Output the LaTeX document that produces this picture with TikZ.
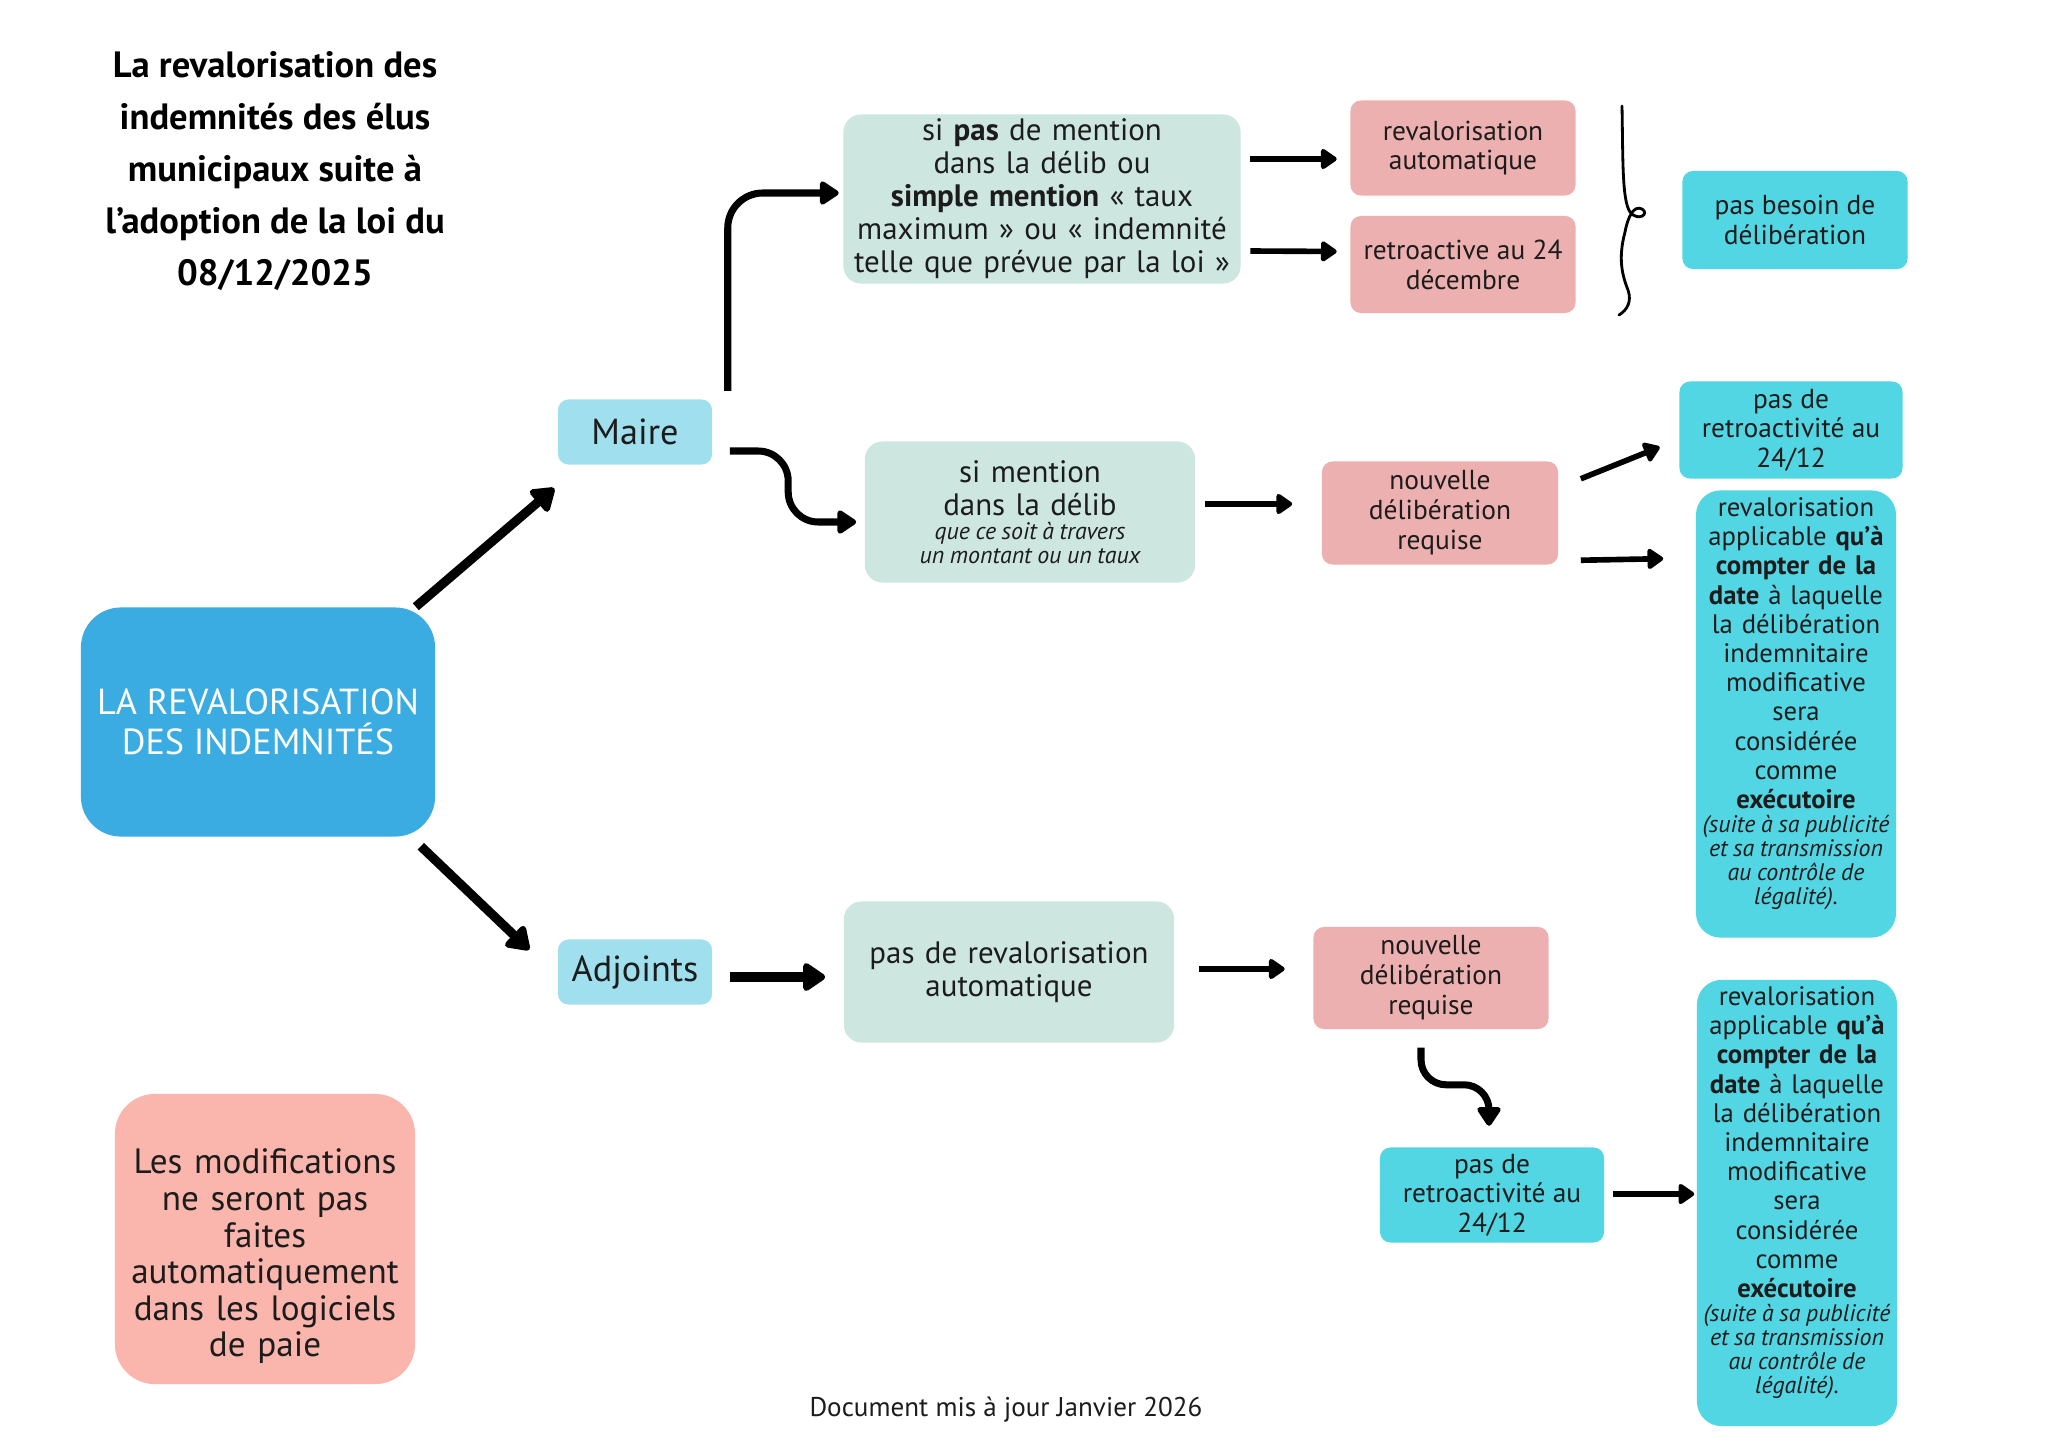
\documentclass[tikz,border=0pt]{standalone}
\usepackage{fontspec}
\setmainfont{PT Sans}
\usepackage{tikz}
\usetikzlibrary{arrows.meta,positioning}
\usepackage{xcolor}
\definecolor{rvblue}{RGB}{59,172,226}
\definecolor{rvpale}{RGB}{160,223,237}
\definecolor{rvmint}{RGB}{205,231,224}
\definecolor{rvrose}{RGB}{237,176,176}
\definecolor{rvcyan}{RGB}{83,214,227}
\definecolor{rvsalmon}{RGB}{250,181,172}
\definecolor{rvtext}{RGB}{28,28,28}
\tikzstyle{box} = [rectangle, rounded corners=3pt, align=center, inner sep=0pt, text=rvtext]
\tikzstyle{rolebox} = [box, fill=rvpale, minimum width=1.54cm, minimum height=0.65cm, font=\fontsize{10.3}{12}\selectfont]
\tikzstyle{casebox} = [box, fill=rvmint, rounded corners=5pt, font=\fontsize{8.8}{9.4}\selectfont]
\tikzstyle{actionbox} = [box, fill=rvrose, minimum width=2.25cm, font=\fontsize{7.8}{8.5}\selectfont]
\tikzstyle{resultbox} = [box, fill=rvcyan, font=\fontsize{7.8}{8.4}\selectfont]
\tikzstyle{tallbox} = [resultbox, rounded corners=7pt, text width=2.0cm, minimum width=1.94cm, minimum height=4.46cm, font=\fontsize{7.6}{8.3}\selectfont]
\tikzstyle{arrow} = [line width=1.6pt, -{Triangle[round, length=5pt, width=6.5pt]}]
\tikzstyle{curvearrow} = [line width=2pt, -{Triangle[round, length=6pt, width=7.5pt]}]
\tikzstyle{bigarrow} = [line width=2.6pt, -{Triangle[round, length=7pt, width=9pt]}]
\newcommand{\rvnote}[1]{{\centering\itshape\fontsize{6.8}{6.8}\selectfont\spaceskip=1.6pt plus 0.6pt minus 0.3pt #1\par}}

\begin{document}
\begin{tikzpicture}[x=0.01cm, y=-0.01cm]
\useasboundingbox[fill=white] (0,0) rectangle (2048,1448);

% title and centre
\node (title) [align=center, font=\bfseries\fontsize{10.4}{14.8}\selectfont] at (275,171)
  {La revalorisation des\\indemnités des élus\\municipaux suite à\\l’adoption de la loi du\\08/12/2025};
\node (main) [box, fill=rvblue, text=white, rounded corners=0.4cm, minimum width=3.54cm, minimum height=2.29cm, font=\fontsize{10.3}{11.2}\selectfont] at (258,722)
  {LA REVALORISATION\\DES INDEMNITÉS};
\node (maire) [rolebox] at (635,432) {Maire};
\node (adjoints) [rolebox] at (635,972) {Adjoints};

% Maire, branche haute
\node (boxA) [casebox, text width=3.9cm, minimum width=3.97cm, minimum height=1.69cm] at (1042,199)
  {si \textbf{pas} de mention\\dans la délib ou\\\textbf{simple mention} « taux\\maximum » ou « indemnité\\telle que prévue par la loi »};
\node (revauto) [actionbox, minimum height=0.95cm] at (1463,148) {revalorisation\\automatique};
\node (retro24) [actionbox, minimum height=0.97cm, below=0.19cm of revauto] {retroactive au 24\\décembre};
\node (besoin) [resultbox, minimum width=2.25cm, minimum height=0.98cm] at (1795,220) {pas besoin de\\délibération};
\draw[line width=0.8pt, line cap=round] (1622,106) .. controls (1623,160) and (1622,200) .. (1630,212)
  .. controls (1638,222) and (1650,214) .. (1642,209) .. controls (1634,205) and (1628,216) .. (1625,232)
  .. controls (1618,258) and (1622,275) .. (1628,290) .. controls (1632,302) and (1627,310) .. (1619,315);

% Maire, branche basse
\node (boxB) [casebox, text width=3.3cm, minimum width=3.3cm, minimum height=1.41cm] at (1030,512)
  {si mention\\dans la délib\par\rvnote{que ce soit à travers\\un montant ou un taux}};
\node (ndr1) [actionbox, minimum width=2.36cm, minimum height=1.03cm] at (1440,513) {nouvelle\\délibération\\requise};
\node (noretro1) [resultbox, minimum width=2.23cm, minimum height=0.97cm] at (1791,430) {pas de\\retroactivité au\\24/12};
\node (applic1) [tallbox, minimum height=4.47cm] at (1796,714)
  {revalorisation\\applicable \textbf{qu’à}\\\textbf{compter de la}\\\textbf{date} à laquelle\\la délibération\\indemnitaire\\modificative\\sera\\considérée\\comme\\\textbf{exécutoire}\par
   \rvnote{(suite à sa publicité\\et sa transmission\\au contrôle de\\légalité).}\vspace*{6pt}};

% Adjoints
\node (boxC) [casebox, text width=3.3cm, minimum width=3.3cm, minimum height=1.41cm] at (1009,972)
  {pas de revalorisation\\automatique};
\node (ndr2) [actionbox, minimum width=2.35cm, minimum height=1.02cm] at (1431,978) {nouvelle\\délibération\\requise};
\node (noretro2) [resultbox, minimum width=2.24cm, minimum height=0.95cm] at (1492,1195) {pas de\\retroactivité au\\24/12};
\node (applic2) [tallbox] at (1797,1203)
  {revalorisation\\applicable \textbf{qu’à}\\\textbf{compter de la}\\\textbf{date} à laquelle\\la délibération\\indemnitaire\\modificative\\sera\\considérée\\comme\\\textbf{exécutoire}\par
   \rvnote{(suite à sa publicité\\et sa transmission\\au contrôle de\\légalité).}\vspace*{6pt}};

% note and footer
\node (note) [box, fill=rvsalmon, rounded corners=0.4cm, text width=2.95cm, minimum width=3.0cm, minimum height=2.9cm, font=\fontsize{10}{10.4}\selectfont] at (265,1239)
  {\rule{0pt}{17pt}Les modifications\\ne seront pas\\faites\\automatiquement\\dans les logiciels\\de paie};
\node (footer) [text=rvtext, font=\fontsize{7.7}{9}\selectfont] at (1006,1410) {Document mis à jour Janvier 2026};

% arrows
\draw[bigarrow] ([shift={(-20,0)}]main.north east) -- ([shift={(-3,23)}]maire.south west);
\draw[bigarrow] ([shift={(-15,9)}]main.south east) -- ([shift={(-28,11)}]adjoints.north west);
\draw[curvearrow, rounded corners=0.35cm] ([shift={(15,-8)}]maire.north east) |- ([shift={(-4,-6)}]boxA.west);
\draw[curvearrow, rounded corners=0.3cm] ([shift={(17,19)}]maire.east) -| ([shift={(-76,10)}]boxB.west) -- ([shift={(-8,10)}]boxB.west);
\draw[bigarrow] ([shift={(17,5)}]adjoints.east) -- ([shift={(-18,5)}]boxC.west);
\draw[arrow] ([shift={(9,-40)}]boxA.east) -- ([shift={(-13,11)}]revauto.west);
\draw[arrow] ([shift={(9,52)}]boxA.east) -- ([shift={(-13,-13)}]retro24.west);
\draw[arrow] ([shift={(9,-8)}]boxB.east) -- ([shift={(-29,-9)}]ndr1.west);
\draw[arrow] ([shift={(22,18)}]ndr1.north east) -- ([shift={(-19,17)}]noretro1.west);
\draw[arrow] ([shift={(22,-5)}]ndr1.south east) -- ([shift={(-32,69)}]applic1.north west);
\draw[arrow] ([shift={(24,-3)}]boxC.east) -- ([shift={(-28,-9)}]ndr2.west);
\draw[curvearrow, rounded corners=0.25cm] ([shift={(-10,18)}]ndr2.south) |- ([shift={(-3,-62)}]noretro2.north) -- ([shift={(-3,-21)}]noretro2.north);
\draw[arrow] ([shift={(8,-1)}]noretro2.east) -- ([shift={(-2,-9)}]applic2.west);
\end{tikzpicture}
\end{document}
